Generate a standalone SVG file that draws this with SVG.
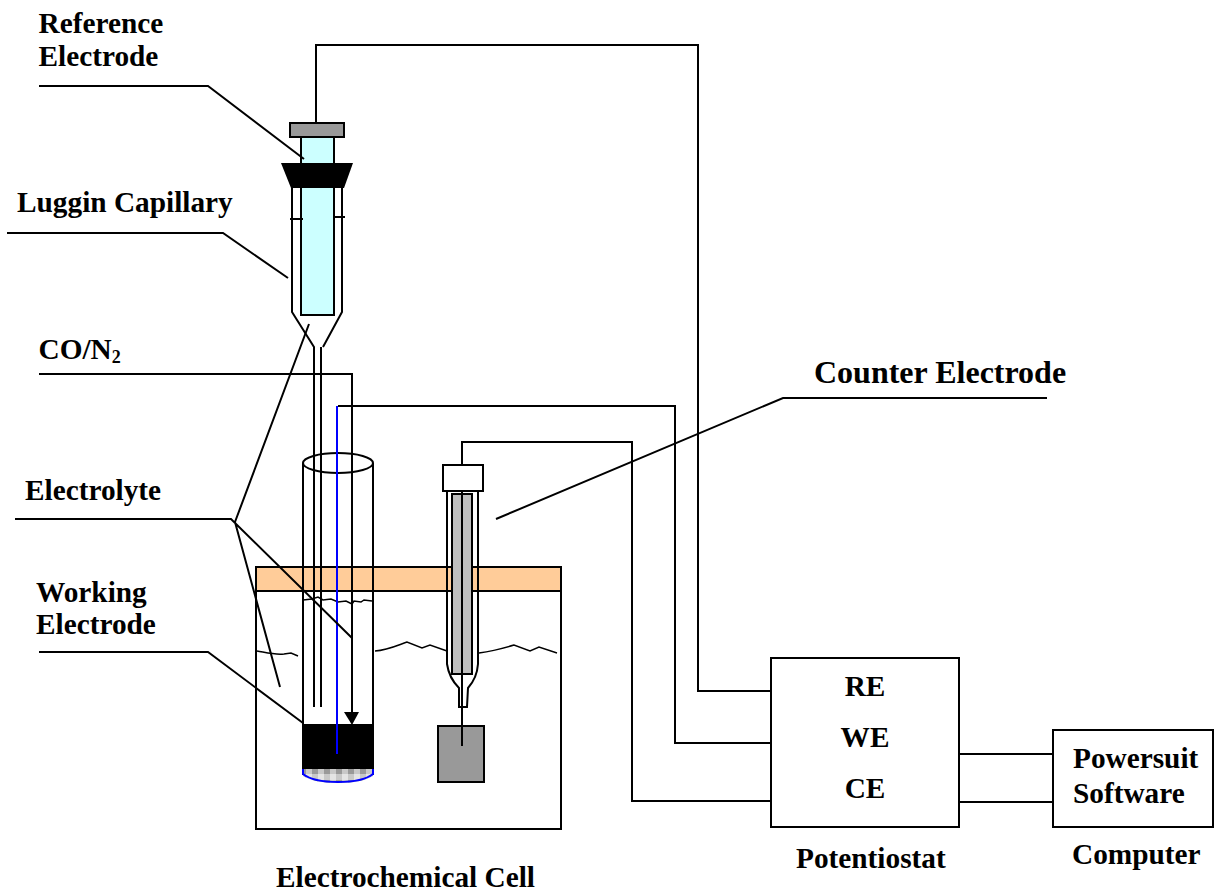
<svg xmlns="http://www.w3.org/2000/svg" width="1214" height="892" viewBox="0 0 1214 892">
<defs>
<style>
.l{fill:none;stroke:#000;stroke-width:2}
.t{fill:none;stroke:#000;stroke-width:1.5}
.b{fill:#fff;stroke:#000;stroke-width:2}
text{font-family:"Liberation Serif","Times New Roman",serif;font-weight:bold;font-size:29.3px;fill:#000}
</style>
<pattern id="gr" width="12" height="12" patternUnits="userSpaceOnUse"><rect width="12" height="12" fill="#c8c8c8"/><rect width="6" height="6" fill="#999"/><rect x="6" y="6" width="6" height="6" fill="#e4e4e4"/></pattern>
</defs>
<rect width="1214" height="892" fill="#fff"/>
<g id="bath">
<rect class="b" x="256" y="590" width="305" height="239"/>
<rect x="256" y="567" width="305" height="24" fill="#fc9" stroke="#000" stroke-width="2"/>
<path class="t" d="M257 651C268 653 275 655 284 654L291 653L298 656M375 651C388 650 398 645 407 642L422 648L430 645L447 651M479 653C493 651 504 648 514 645L530 651L539 647L557 653"/>
</g>
<g id="cell-tube">
<path class="l" d="M303 463V775M373 463V775"/>
<ellipse class="l" cx="338" cy="463" rx="35" ry="10"/>
<path class="t" d="M303 600L312 599L318 597L323 600L331 599L338 602L346 601L352 604L354 601L361 602L364 600L372 601"/>
<rect x="302" y="724" width="72" height="45" fill="#000"/>
<path d="M303 769H373V776Q362 783 338 783T303 776Z" fill="url(#gr)"/>
<path d="M303 769V774Q313 782 338 782T373 774V769" fill="none" stroke="#00f" stroke-width="2"/>
</g>
<g id="luggin">
<rect x="301" y="137" width="33" height="178" fill="#cff" stroke="#000" stroke-width="2"/>
<path class="l" d="M292 188V312L314 347V707M342 188V312L323 347M321 347V707M290 219H303M333 217H345"/>
</g>
<g id="reference-electrode">
<rect x="290" y="123" width="54" height="14" fill="#999" stroke="#000" stroke-width="2"/>
<path d="M281 163H353L344 188H291Z" fill="#000"/>
</g>
<g id="counter-electrode">
<path class="l" d="M447 487V664Q449 678 459 688V707H467L468 688Q477 678 478 664V491"/>
<rect x="452" y="494" width="20" height="180" fill="#bfbfbf" stroke="#000" stroke-width="2"/>
<rect class="b" x="443" y="465" width="40" height="26"/>
<rect x="438" y="726" width="46" height="56" fill="#999" stroke="#000" stroke-width="2"/>
<path class="l" d="M462 491V746"/>
</g>
<g id="connectors">
<path class="l" d="M316 123V45H698V691H771M338 406H675V743H771M462 465V442H632V801H771M959 754H1053M959 802H1053"/>
<path class="l" d="M39 374H352V715"/>
<path d="M344 712H359L352 725Z" fill="#000"/>
<path d="M337 406V754" fill="none" stroke="#00f" stroke-width="2"/>
<path class="l" d="M39 86H208L304 159M7 233H223L288 278M309 324L235 522L280 687M15 519H231L352 638M39 652H208L303 723M1047 398H783L496 519"/>
</g>
<g id="potentiostat"><rect class="b" x="771" y="658" width="188" height="169"/>
<text x="865" y="696" text-anchor="middle">RE</text><text x="865" y="747" text-anchor="middle">WE</text><text x="865" y="798" text-anchor="middle">CE</text></g>
<g id="computer"><rect class="b" x="1053" y="730" width="160" height="97"/>
<text x="1073" y="768">Powersuit</text><text x="1073" y="803">Software</text></g>
<g id="labels">
<text x="38.5" y="33">Reference</text><text x="38.5" y="66">Electrode</text>
<text x="17" y="212">Luggin Capillary</text>
<text x="38.5" y="359">CO/N<tspan font-size="18" dy="4">2</tspan></text>
<text x="25" y="500">Electrolyte</text>
<text x="36" y="602">Working</text><text x="36" y="634">Electrode</text>
<text x="814" y="383" style="font-size:32px">Counter Electrode</text>
<text x="276" y="887">Electrochemical Cell</text>
<text x="796" y="868">Potentiostat</text>
<text x="1072" y="864">Computer</text>
</g>
</svg>
